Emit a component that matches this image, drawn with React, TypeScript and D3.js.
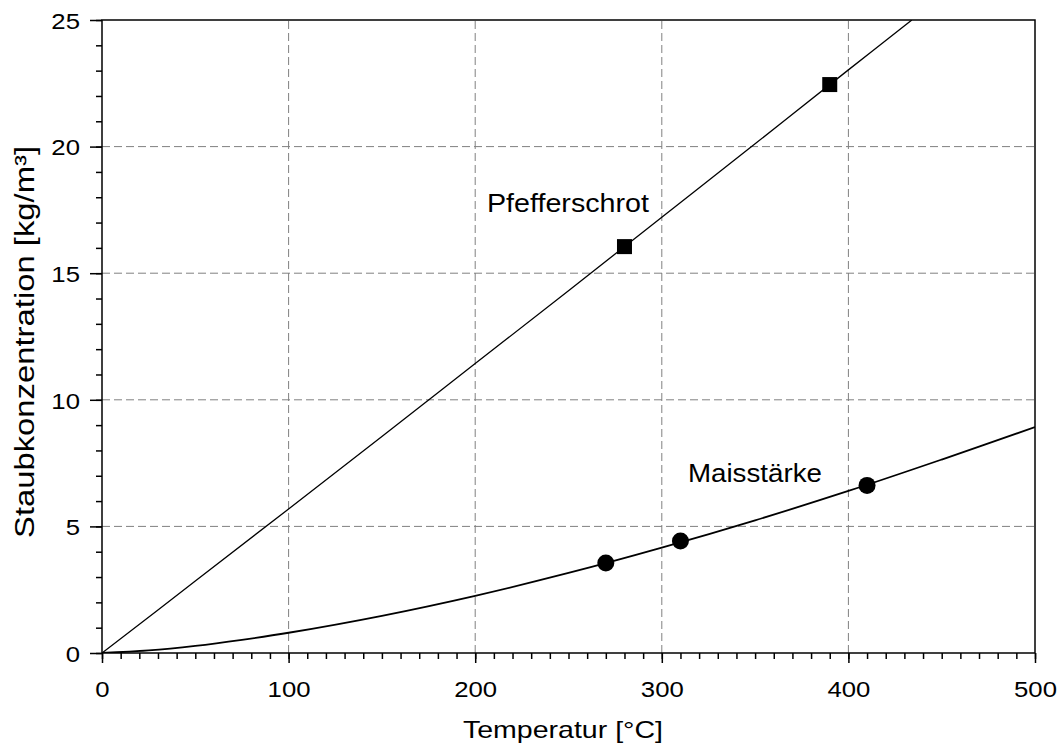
import React, { useRef, useEffect } from "react";
import * as d3 from "d3";

// Pfefferschrot: fitted line
const pfefferX = [0, 50, 100, 150, 200, 250, 300, 350, 400, 434];
const pfefferY = [0, 2.84, 5.69, 8.55, 11.43, 14.31, 17.21, 20.11, 23.03, 25];
// measured points
const pfefferPtsX = [280, 390];
const pfefferPtsY = [16.05, 22.45];

// Maisstärke: fitted curve
const maisX = [0, 25, 50, 75, 100, 150, 200, 250, 300, 350, 400, 450, 500];
const maisY = [0, 0.1, 0.28, 0.52, 0.8, 1.47, 2.26, 3.16, 4.16, 5.24, 6.4, 7.64, 8.92];
const maisPtsX = [270, 310, 410];
const maisPtsY = [3.55, 4.42, 6.62];

const xTicks = [0, 100, 200, 300, 400, 500];
const yTicks = [0, 5, 10, 15, 20, 25];

const App = () => {
  const svgRef = useRef<SVGSVGElement>(null);

  useEffect(() => {
    const width = 1061;
    const height = 749;
    const margin = { top: 20, right: 26, bottom: 96, left: 102 };
    const font = "'Liberation Sans', Arial, sans-serif";
    const sx = 1.12; // the original lettering is a bit wider than Arial

    const svg = d3.select(svgRef.current);
    svg.selectAll("*").remove();

    const x = d3.scaleLinear().domain([0, 500]).range([margin.left, width - margin.right]);
    const y = d3.scaleLinear().domain([0, 25]).range([height - margin.bottom, margin.top]);

    svg.append("rect").attr("width", width).attr("height", height).attr("fill", "#fff");

    // grid
    const grid = svg.append("g").attr("stroke", "#808080").attr("stroke-width", 1).attr("stroke-dasharray", "8,4");
    xTicks.filter(t => t > 0 && t < 500).forEach(t => {
      grid.append("line").attr("x1", x(t)).attr("x2", x(t)).attr("y1", y(0)).attr("y2", y(25));
    });
    yTicks.filter(t => t > 0 && t < 25).forEach(t => {
      grid.append("line").attr("x1", x(0)).attr("x2", x(500)).attr("y1", y(t)).attr("y2", y(t));
    });

    svg.append("clipPath").attr("id", "plotclip")
      .append("rect").attr("x", x(0)).attr("y", y(25)).attr("width", x(500) - x(0)).attr("height", y(0) - y(25));

    svg.append("path")
      .attr("clip-path", "url(#plotclip)")
      .attr("d", d3.line<number>().curve(d3.curveCatmullRom).x(d => x(d)).y((d, i) => y(pfefferY[i]))(pfefferX))
      .attr("fill", "none").attr("stroke", "#000").attr("stroke-width", 1.3);

    svg.append("path")
      .attr("clip-path", "url(#plotclip)")
      .attr("d", d3.line<number>().curve(d3.curveCatmullRom).x(d => x(d)).y((d, i) => y(maisY[i]))(maisX))
      .attr("fill", "none").attr("stroke", "#000").attr("stroke-width", 1.8);

    // frame
    svg.append("rect")
      .attr("x", x(0)).attr("y", y(25)).attr("width", x(500) - x(0)).attr("height", y(0) - y(25))
      .attr("fill", "none").attr("stroke", "#000").attr("stroke-width", 1.5);

    // x axis, minor + major
    const xMinor = svg.append("g").attr("transform", `translate(0,${y(0)})`)
      .call(d3.axisBottom(x).tickValues(d3.range(0, 501, 10)).tickSize(6).tickFormat(() => ""));
    xMinor.select(".domain").remove();
    xMinor.selectAll("line").attr("stroke-width", 1.5);
    const xMajor = svg.append("g").attr("transform", `translate(0,${y(0)})`)
      .call(d3.axisBottom(x).tickValues(xTicks).tickSize(10).tickFormat(d3.format("d")));
    xMajor.select(".domain").remove();
    xMajor.selectAll("line").attr("stroke-width", 1.5);
    xMajor.selectAll("text")
      .attr("y", 44).attr("dy", 0)
      .attr("transform", `scale(${sx},1)`)
      .attr("font-family", font).attr("font-size", 23).attr("fill", "#000");

    // y axis, minor + major
    const yMinor = svg.append("g").attr("transform", `translate(${x(0)},0)`)
      .call(d3.axisLeft(y).tickValues(d3.range(0, 26, 1)).tickSize(6).tickFormat(() => ""));
    yMinor.select(".domain").remove();
    yMinor.selectAll("line").attr("stroke-width", 1.5);
    const yMajor = svg.append("g").attr("transform", `translate(${x(0)},0)`)
      .call(d3.axisLeft(y).tickValues(yTicks).tickSize(12).tickFormat(d3.format("d")));
    yMajor.select(".domain").remove();
    yMajor.selectAll("line").attr("stroke-width", 1.5);
    yMajor.selectAll("text")
      .attr("x", -22 / sx).attr("dy", "0.36em")
      .attr("transform", `scale(${sx},1)`)
      .attr("font-family", font).attr("font-size", 23).attr("fill", "#000");

    // markers
    svg.append("g").selectAll("rect")
      .data(pfefferPtsX)
      .enter()
      .append("rect")
      .attr("x", d => x(d) - 7.5)
      .attr("y", (d, i) => y(pfefferPtsY[i]) - 7.5)
      .attr("width", 15).attr("height", 15)
      .attr("fill", "#000");

    svg.append("g").selectAll("circle")
      .data(maisPtsX)
      .enter()
      .append("circle")
      .attr("cx", d => x(d))
      .attr("cy", (d, i) => y(maisPtsY[i]))
      .attr("r", 8.5)
      .attr("fill", "#000");

    // series labels
    svg.append("text").attr("x", x(206.3)).attr("y", y(17.43))
      .attr("font-family", font).attr("font-size", 25)
      .attr("textLength", 162).attr("lengthAdjust", "spacingAndGlyphs")
      .text("Pfefferschrot");
    svg.append("text").attr("x", x(314)).attr("y", y(6.74))
      .attr("font-family", font).attr("font-size", 25)
      .attr("textLength", 134).attr("lengthAdjust", "spacingAndGlyphs")
      .text("Maisstärke");

    // axis titles
    svg.append("text").attr("x", 463).attr("y", 738)
      .attr("font-family", font).attr("font-size", 24)
      .attr("textLength", 200).attr("lengthAdjust", "spacingAndGlyphs")
      .text("Temperatur [°C]");
    svg.append("text")
      .attr("transform", `translate(34,538) rotate(-90)`)
      .attr("font-family", font).attr("font-size", 27)
      .attr("textLength", 392).attr("lengthAdjust", "spacingAndGlyphs")
      .text("Staubkonzentration [kg/m³]");
  }, []);

  return (
    <svg ref={svgRef} width={1061} height={749}
      style={{ position: "absolute", left: 0, top: 0, display: "block" }}></svg>
  );
};

export default App;
